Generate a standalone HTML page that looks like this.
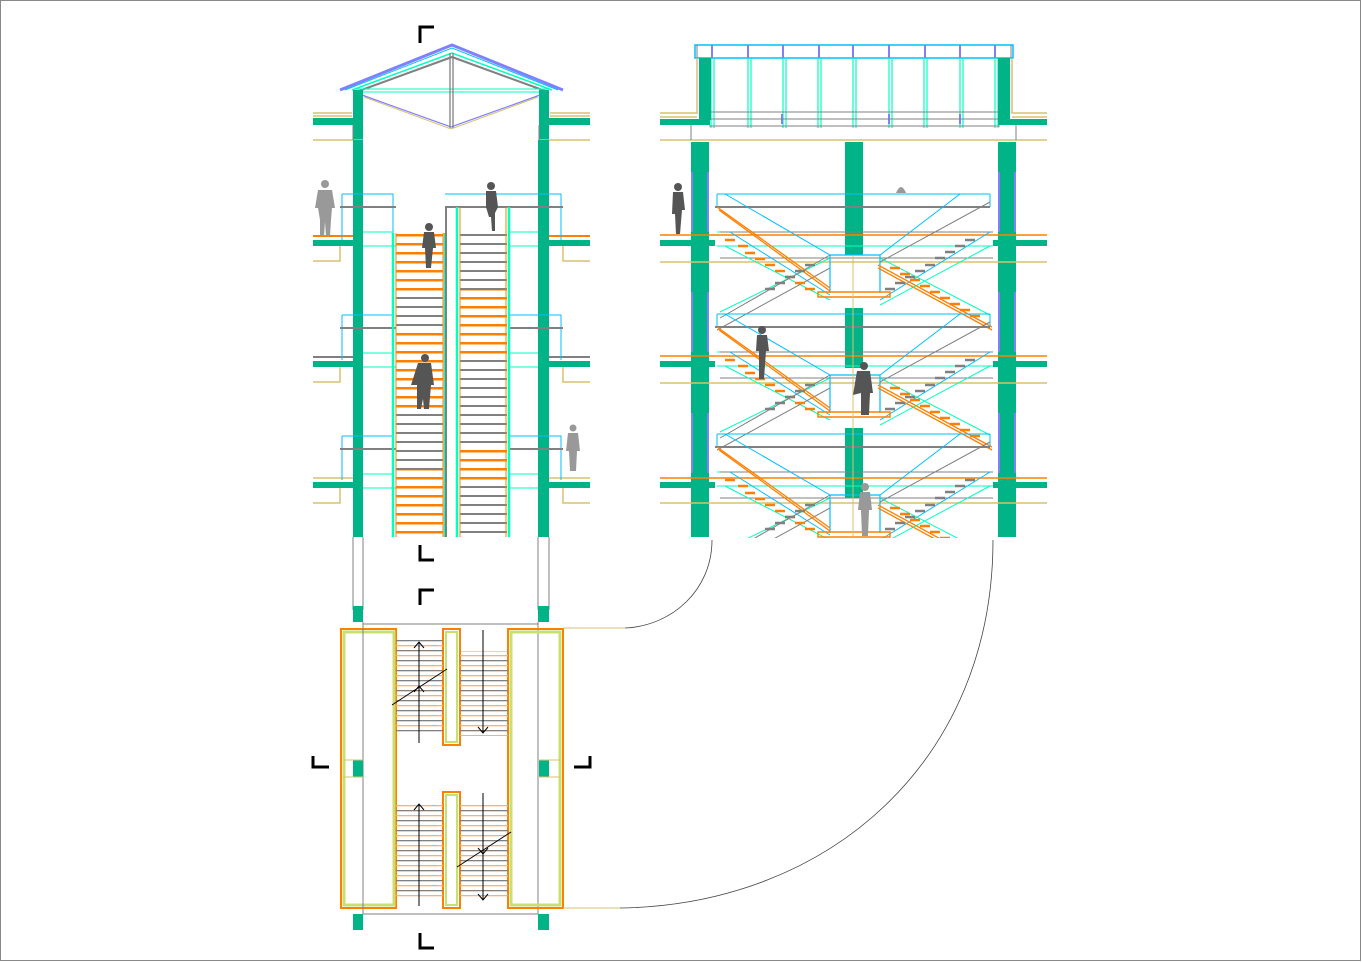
<!DOCTYPE html>
<html><head><meta charset="utf-8"><style>
html,body{margin:0;padding:0;background:#fff;width:1362px;height:962px;overflow:hidden}
svg{display:block}
</style></head><body>
<svg width="1362" height="962" viewBox="0 0 1362 962" xmlns="http://www.w3.org/2000/svg" fill="none">
<defs>
<clipPath id="rc"><rect x="650" y="130" width="410" height="408"/></clipPath>
<pattern id="to" width="10" height="9" patternUnits="userSpaceOnUse"><rect x="0" y="0" width="10" height="2.5" fill="#FF8000"/></pattern>
<pattern id="tg" width="10" height="9" patternUnits="userSpaceOnUse"><rect x="0" y="0" width="10" height="2" fill="#808080"/></pattern>
<pattern id="pto" width="10" height="10" patternUnits="userSpaceOnUse"><rect x="0" y="0" width="10" height="1.3" fill="#808080"/><rect x="0" y="5" width="10" height="1.3" fill="#FFB070"/></pattern>
<g id="lvl">
  <path d="M717 194 H990 M717 194 V207 M990 194 V207" stroke="#00BFFF" stroke-width="1"/>
  <path d="M715 207 H990" stroke="#808080" stroke-width="2"/>
  <path d="M717 232 H993 M717 246 H993" stroke="#00FFC0" stroke-width="1"/>
  <path d="M720 232 H993 M720 258 H993" stroke="#808080" stroke-width="1"/>
  <path d="M725 194 L830 255 M960 194 L880 255 M730 232 L830 295 M990 232 L880 300" stroke="#00BFFF" stroke-width="1"/>
  <path d="M725 246 L830 300 M990 246 L880 305 M720 312 L830 258 M990 315 L880 258" stroke="#00FFC0" stroke-width="1"/>
  <path d="M720 318 L830 255 M990 202 L880 262 M717 330 L830 268" stroke="#808080" stroke-width="1"/>
  <path d="M830 255 V293 M880 255 V293 M830 255 H880" stroke="#00BFFF" stroke-width="1.2"/>
  <rect x="818" y="292" width="72" height="5" stroke="#FF8000" stroke-width="1.5"/>
  <path d="M717 207 L830 288 M719 210 L830 291" stroke="#FF8000" stroke-width="1.3"/>
  <path d="M878 265 L992 327 M878 268 L992 330" stroke="#FF8000" stroke-width="1.3"/>
  <path d="M725 240h10 M738 246h10 M745 253h10 M755 259h10 M765 265h10 M775 271h10 M785 277h10 M795 283h10 M805 289h10" stroke="#FF8000" stroke-width="2.5"/>
  <path d="M890 268h10 M900 274h10 M910 280h10 M920 286h10 M930 292h10 M940 298h10 M950 304h10 M960 310h10 M970 316h10" stroke="#FF8000" stroke-width="2.5"/>
  <path d="M965 240h10 M955 246h10 M945 252h10 M935 258h10 M925 265h10 M915 271h10 M905 277h10 M895 283h10 M885 289h10" stroke="#808080" stroke-width="2.5"/>
  <path d="M805 265h10 M795 271h10 M785 277h10 M775 283h10 M765 289h10" stroke="#808080" stroke-width="2.5"/>
</g>
</defs>
<rect x="0.5" y="0.5" width="1360" height="960" stroke="#888" stroke-width="1"/>

<!-- ============ LEFT ELEVATION ============ -->
<path d="M340 90 L452 45 L563 90" stroke="#8080FF" stroke-width="3"/>
<path d="M345 90 L452 48 L558 90" stroke="#00BFFF" stroke-width="1"/>
<path d="M352 90 L452 53 L552 90" stroke="#00FFC0" stroke-width="1.5"/>
<path d="M356 92 L452 57 L548 92" stroke="#808080" stroke-width="2"/>
<path d="M355 89 H548 M355 92 H548" stroke="#00FFC0" stroke-width="1"/>
<path d="M362 95 L451 127 L540 95" stroke="#8080FF" stroke-width="1.2"/>
<path d="M364 97 L451 129 L538 97" stroke="#D8C070" stroke-width="1"/>
<path d="M450 53 V128 M453 53 V128" stroke="#808080" stroke-width="1.3"/>
<rect x="353" y="90" width="10" height="50" fill="#00B487"/>
<rect x="539" y="90" width="10" height="50" fill="#00B487"/>
<path d="M313 113 H352 M313 116 H352 M550 113 H590 M550 116 H590" stroke="#D8C070" stroke-width="1.5"/>
<rect x="313" y="118" width="42" height="7" fill="#00B487"/>
<rect x="547" y="118" width="43" height="7" fill="#00B487"/>
<path d="M313 140 H363 M539 140 H590" stroke="#D8C070" stroke-width="1.5"/>
<path d="M353 125 V140 M539 125 V140" stroke="#808080" stroke-width="1"/>
<rect x="353" y="140" width="10" height="397" fill="#00B487"/>
<rect x="538" y="140" width="11" height="397" fill="#00B487"/>
<path d="M353 537 V610 M363 537 V610 M538 537 V610 M549 537 V610" stroke="#808080" stroke-width="1"/>
<rect x="353" y="606" width="10" height="16" fill="#00B487"/>
<rect x="538" y="606" width="11" height="16" fill="#00B487"/>
<g>
<path d="M313 236 H353 M549 236 H590" stroke="#FF8000" stroke-width="2"/>
<rect x="313" y="240" width="40" height="6" fill="#00B487"/><rect x="549" y="240" width="41" height="6" fill="#00B487"/>
<path d="M313 261 H340 V246 M563 246 V261 H590" stroke="#D8C070" stroke-width="1.5"/>
<path d="M313 357 H353 M549 357 H590" stroke="#808080" stroke-width="2"/>
<rect x="313" y="361" width="40" height="6" fill="#00B487"/><rect x="549" y="361" width="41" height="6" fill="#00B487"/>
<path d="M313 382 H340 V367 M563 367 V382 H590" stroke="#D8C070" stroke-width="1.5"/>
<path d="M313 478 H353 M549 478 H590" stroke="#D8C070" stroke-width="1.5"/>
<rect x="313" y="482" width="40" height="6" fill="#00B487"/><rect x="549" y="482" width="41" height="6" fill="#00B487"/>
<path d="M313 503 H340 V488 M563 488 V503 H590" stroke="#D8C070" stroke-width="1.5"/>
</g>
<g stroke-width="1">
<path d="M342 194 H393 V233 M342 194 V240 M445 194 H561 V240" stroke="#00BFFF"/>
<path d="M340 207 H396 M445 207 H563" stroke="#808080" stroke-width="2"/>
<path d="M363 232 H393 M363 246 H396 M508 232 H538 M508 246 H538" stroke="#00FFC0"/>
<path d="M342 315 H393 M342 315 V360 M508 315 H561 V360" stroke="#00BFFF"/>
<path d="M340 328 H396 M508 328 H563" stroke="#808080" stroke-width="2"/>
<path d="M363 353 H393 M363 367 H396 M508 353 H538 M508 367 H538" stroke="#00FFC0"/>
<path d="M342 436 H393 M342 436 V480 M508 436 H561 V480" stroke="#00BFFF"/>
<path d="M340 449 H396 M508 449 H563" stroke="#808080" stroke-width="2"/>
<path d="M363 474 H393 M363 488 H396 M508 474 H538 M508 488 H538" stroke="#00FFC0"/>
</g>
<rect x="396" y="233" width="47" height="62" fill="url(#to)"/>
<rect x="396" y="295" width="47" height="35" fill="url(#tg)"/>
<rect x="396" y="330" width="47" height="80" fill="url(#to)"/>
<rect x="396" y="410" width="47" height="60" fill="url(#tg)"/>
<rect x="396" y="470" width="47" height="67" fill="url(#to)"/>
<rect x="460" y="233" width="47" height="57" fill="url(#tg)"/>
<rect x="460" y="290" width="47" height="65" fill="url(#to)"/>
<rect x="460" y="355" width="47" height="90" fill="url(#tg)"/>
<rect x="460" y="445" width="47" height="35" fill="url(#to)"/>
<rect x="460" y="480" width="47" height="57" fill="url(#tg)"/>
<path d="M393 233 V537 M445 233 V537 M457 207 V537 M509 207 V537" stroke="#00FFC0" stroke-width="2.5"/>
<path d="M396 233 V537 M443 233 V537 M460 207 V537 M506 207 V537" stroke="#FF8000" stroke-width="1"/>
<path d="M446 207 V537" stroke="#808080" stroke-width="2"/>
<g fill="#999">
<circle cx="325" cy="184" r="4"/><path d="M318 190 h14 l3 18 h-3 l-1 12 l-1 16 h-4 l-1-14 l-1 14 h-4 l0-16 l-2-12 h-3 z"/>
<circle cx="573" cy="428" r="3.5"/><path d="M568 433 h10 l2 18 h-3 l-1 20 h-6 l-1-20 h-3 z"/>
</g>
<g fill="#555">
<circle cx="491" cy="186" r="4"/><path d="M486 191 h10 l2 16 l-3 6 v18 h-3 l-1-14 l-2 0 l-3-10 z"/>
<circle cx="429" cy="227" r="4"/><path d="M424 232 h10 l2 16 h-3 l-2 20 h-5 l-1-20 h-3 z"/>
<circle cx="425" cy="358" r="4"/><path d="M418 363 h13 l3 22 h-3 l-2 24 h-5 l-1-10 l-2 10 h-4 l0-24 l-6 0 z"/>
</g>

<!-- ============ RIGHT SECTION ============ -->
<rect x="695" y="45" width="318" height="13" stroke="#00BFFF" stroke-width="1.5"/>
<path d="M697 45 V58 M1011 45 V58" stroke="#808080"/>
<g stroke="#00FFC0" stroke-width="1.2">
<path d="M711 58 V128 M748 58 V128 M783 58 V128 M818 58 V128 M853 58 V128 M889 58 V128 M924 58 V128 M960 58 V128 M995 58 V128"/>
<path d="M714 58 V128 M751 58 V128 M786 58 V128 M821 58 V128 M856 58 V128 M892 58 V128 M927 58 V128 M963 58 V128 M998 58 V128"/>
</g>
<g stroke="#8080FF" stroke-width="2">
<path d="M712 45 V58 M748 45 V58 M783 45 V58 M819 45 V58 M853 45 V58 M889 45 V58 M925 45 V58 M960 45 V58 M995 45 V58"/>
<path d="M782 114 V124 M889 114 V124 M960 114 V124"/>
</g>
<path d="M709 112 H1000 M709 119 H1000 M709 126 H1000" stroke="#808080" stroke-width="1"/>
<rect x="699" y="58" width="12" height="62" fill="#00B487"/>
<rect x="998" y="58" width="12" height="62" fill="#00B487"/>
<path d="M697 58 V113 H660 M1012 58 V113 H1047 M660 117 H697 M1012 117 H1047" stroke="#D8C070" stroke-width="1.5"/>
<rect x="660" y="119" width="50" height="6" fill="#00B487"/><rect x="998" y="119" width="49" height="6" fill="#00B487"/>
<path d="M660 140 H1047" stroke="#D8C070" stroke-width="1.5"/>
<path d="M691 125 V140 M1016 125 V140" stroke="#808080"/>
<rect x="691" y="142" width="18" height="395" fill="#00B487"/>
<rect x="845" y="142" width="18" height="113" fill="#00B487"/>
<rect x="845" y="308" width="18" height="60" fill="#00B487"/>
<rect x="845" y="428" width="18" height="70" fill="#00B487"/>
<rect x="998" y="142" width="18" height="395" fill="#00B487"/>
<path d="M692 172 V232 M708 172 V232 M692 292 V352 M708 292 V352 M692 413 V473 M708 413 V473 M999 172 V232 M1015 172 V232 M999 292 V352 M1015 292 V352 M999 413 V473 M1015 413 V473" stroke="#8080FF" stroke-width="2"/>
<path d="M660 235 H1047 M660 356 H1047 M660 478 H1047" stroke="#FF8000" stroke-width="1.5"/>
<rect x="660" y="240" width="55" height="6" fill="#00B487"/><rect x="993" y="240" width="54" height="6" fill="#00B487"/>
<rect x="660" y="361" width="55" height="6" fill="#00B487"/><rect x="993" y="361" width="54" height="6" fill="#00B487"/>
<rect x="660" y="482" width="55" height="6" fill="#00B487"/><rect x="993" y="482" width="54" height="6" fill="#00B487"/>
<path d="M660 262 H1047 M660 383 H1047 M660 503 H1047" stroke="#D8C070" stroke-width="1.5"/>
<g clip-path="url(#rc)">
<use href="#lvl"/>
<use href="#lvl" transform="translate(0,120)"/>
<use href="#lvl" transform="translate(0,240)"/>
</g>
<path d="M853 255 V537" stroke="#D8C070" stroke-width="1"/>
<g fill="#555">
<circle cx="678" cy="187" r="4"/><path d="M673 192 h10 l2 18 h-3 l-2 24 h-4 l-1-20 h-3 z"/>
<circle cx="762" cy="330" r="4"/><path d="M757 335 h10 l2 16 h-3 l-2 28 h-5 l0-28 h-3 z"/>
<circle cx="864" cy="366" r="4"/><path d="M857 371 h13 l3 22 h-3 l-1 22 h-8 l0-22 l-8 2 z"/>
</g>
<g fill="#999">
<path d="M896 193 q5-12 10 0 z"/>
<circle cx="865" cy="487" r="4"/><path d="M860 492 h10 l2 18 h-3 l-1 26 h-6 l-1-26 h-3 z"/>
</g>

<!-- ============ PLAN ============ -->
<path d="M363 622 V628 M538 622 V628" stroke="#808080"/>
<rect x="363" y="624" width="175" height="290" stroke="#808080" stroke-width="1"/>
<rect x="341" y="629" width="55" height="279" stroke="#FF8000" stroke-width="2"/>
<rect x="344" y="632" width="50" height="273" stroke="#C8E070" stroke-width="3"/>
<rect x="508" y="629" width="55" height="279" stroke="#FF8000" stroke-width="2"/>
<rect x="511" y="632" width="49" height="273" stroke="#C8E070" stroke-width="3"/>
<rect x="443" y="629" width="17" height="116" stroke="#FF8000" stroke-width="2"/>
<rect x="446" y="632" width="11" height="110" stroke="#C8E070" stroke-width="2"/>
<rect x="443" y="792" width="17" height="116" stroke="#FF8000" stroke-width="2"/>
<rect x="446" y="795" width="11" height="110" stroke="#C8E070" stroke-width="2"/>
<path d="M363 624 V914" stroke="#808080"/>
<rect x="353" y="760" width="10" height="17" fill="#00B487"/>
<rect x="539" y="760" width="10" height="17" fill="#00B487"/>
<path d="M343 760 H363 M343 777 H363 M539 760 H560 M539 777 H560" stroke="#D8C070"/>
<rect x="353" y="914" width="10" height="16" fill="#00B487"/>
<rect x="538" y="914" width="11" height="16" fill="#00B487"/>
<rect x="396" y="640" width="47" height="95" fill="url(#pto)"/>
<rect x="460" y="651" width="48" height="85" fill="url(#pto)"/>
<rect x="396" y="803" width="47" height="95" fill="url(#pto)"/>
<rect x="460" y="804" width="48" height="95" fill="url(#pto)"/>
<g stroke="#000" stroke-width="1">
<path d="M419 642 V743 M414 648 L419 642 L424 648 M414 692 L419 686 L424 692"/>
<path d="M392 705 L447 669"/>
<path d="M483 630 V733 M478 727 L483 733 L488 727"/>
<path d="M419 804 V906 M414 810 L419 804 L424 810"/>
<path d="M483 793 V900 M478 894 L483 900 L488 894 M478 848 L483 854 L488 848"/>
<path d="M457 867 L511 832"/>
</g>
<path d="M563 628 H625" stroke="#D8C070" stroke-width="1"/>
<path d="M625 628 C672 626 712 590 712 540" stroke="#444" stroke-width="0.8"/>
<path d="M563 908 H620" stroke="#D8C070" stroke-width="1"/>
<path d="M620 908 C830 905 993 760 993 540" stroke="#444" stroke-width="0.8"/>

<g stroke="#000" stroke-width="3" fill="none">
<path d="M420 43 V27 H434"/>
<path d="M420 545 V560 H434"/>
<path d="M420 605 V590 H434"/>
<path d="M420 933 V948 H434"/>
<path d="M313 756 V767 H329"/>
<path d="M590 756 V767 H574"/>
</g>
</svg>
</body></html>
